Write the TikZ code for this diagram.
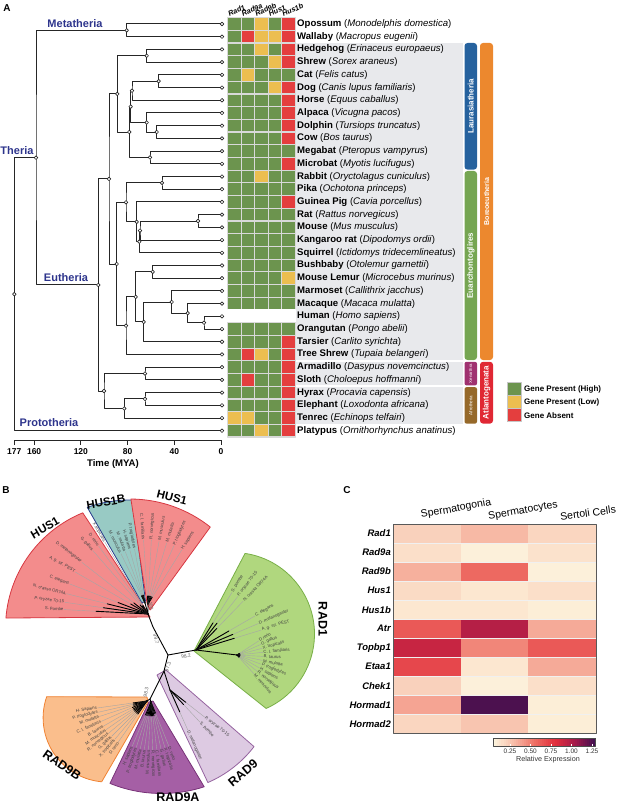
\documentclass[tikz,border=0pt]{standalone}
\usepackage{fontspec}
\setmainfont{Liberation Sans}
\usetikzlibrary{calc, positioning}

% Panel A colours
\definecolor{cladeBlue}{RGB}{45,52,140}
\definecolor{cellG}{RGB}{108,148,78}
\definecolor{cellY}{RGB}{236,190,80}
\definecolor{cellR}{RGB}{228,62,62}
\definecolor{cellN}{RGB}{255,255,255}
\colorlet{edgeG}{gray!30}
\colorlet{edgeY}{gray!30}
\colorlet{edgeR}{gray!30}
\colorlet{edgeN}{white}
\definecolor{lauraBlue}{RGB}{38,98,158}
\definecolor{euarGreen}{RGB}{118,166,82}
\definecolor{xenPurple}{RGB}{160,50,112}
\definecolor{afroBrown}{RGB}{150,105,42}
\definecolor{boreoOrange}{RGB}{236,136,46}
\definecolor{atlanRed}{RGB}{224,40,52}
\definecolor{labelGray}{RGB}{232,233,236}
% Panel B colours
\definecolor{husFill}{RGB}{243,140,140}
\definecolor{husLine}{RGB}{215,55,65}
\definecolor{hbFill}{RGB}{152,202,196}
\definecolor{hbLine}{RGB}{40,60,140}
\definecolor{radFill}{RGB}{176,215,126}
\definecolor{radLine}{RGB}{120,175,70}
\definecolor{nineBFill}{RGB}{250,190,140}
\definecolor{nineBLine}{RGB}{240,130,50}
\definecolor{nineAFill}{RGB}{165,95,165}
\definecolor{nineALine}{RGB}{120,50,120}
\definecolor{nineFill}{RGB}{221,202,226}
\definecolor{nineLine}{RGB}{150,100,160}
% Panel C expression scale
\definecolor{ex0}{RGB}{253,245,222}
\definecolor{ex1}{RGB}{247,185,165}
\definecolor{ex2}{RGB}{238,110,100}
\definecolor{ex3}{RGB}{225,45,60}
\definecolor{ex4}{RGB}{160,25,75}
\definecolor{ex5}{RGB}{60,15,80}

\newcommand{\setfs}[1]{\fontsize{#1}{#1}\selectfont}

% internal node of the time tree: name, x, child a, child b
\newcommand{\joinclade}[4]{%
  \path let \p1=($(#3)!0.5!(#4)$) in coordinate (#1) at (#2pt,\y1);
  \draw[branch] (#3) -| (#1) |- (#4);
}

% colour of one expression cell
\newcommand{\excolor}[1]{%
  \pgfmathtruncatemacro\exseg{min(4,floor(#1/0.25))}%
  \pgfmathtruncatemacro\expct{round((#1-0.25*\exseg)/0.25*100)}%
  \pgfmathtruncatemacro\exnext{\exseg+1}%
  \colorlet{excell}{ex\exnext!\expct!ex\exseg}%
}

% leaves of the radial tree: root, radius, list angle/black/text
\newcommand{\leaves}[3]{%
  \foreach \a/\b/\t in {#3} {
    \draw[leafline] (#1) -- ++(\a:#2pt) coordinate (lf);
    \draw[twig] (#1) -- ++(\a:\b pt);
    \pgfmathtruncatemacro\flip{cos(\a)<0}
    \ifnum\flip=1
      \node[leaf, anchor=east, rotate=\a+180] (lf#1\a) at (lf) {\t};
    \else
      \node[leaf, anchor=west, rotate=\a] (lf#1\a) at (lf) {\t};
    \fi
  }
}

\begin{document}
\begin{tikzpicture}[x=1pt, y=-1pt, line join=round,
  panel/.style={font=\bfseries\setfs{10}, inner sep=0pt},
  branch/.style={draw=black!85, line width=1pt},
  knot/.style={draw=black!85, fill=white, line width=0.65pt},
  clade/.style={font=\bfseries\setfs{11}, text=cladeBlue, inner sep=0pt},
  species/.style={anchor=west, inner sep=0pt, font=\setfs{9.6}},
  colgene/.style={anchor=base west, rotate=25, inner sep=0pt, font=\bfseries\itshape\setfs{7.3}},
  cellbox/.style={line width=1.2pt},
  barname/.style={text=white, rotate=90, inner sep=0pt, font=\bfseries\setfs{8}},
  legendtext/.style={anchor=west, inner sep=0pt, font=\bfseries\setfs{8}},
  axis/.style={draw=black!85, line width=1pt},
  ticklabel/.style={font=\bfseries\setfs{8.5}, inner sep=0pt},
  sector/.style={line width=0.8pt},
  leafline/.style={draw=black!35, line width=0.4pt},
  twig/.style={draw=black, line width=0.9pt, line cap=round},
  leaf/.style={inner sep=0.5pt, font=\setfs{4.3}, text=black!75},
  boot/.style={inner sep=0pt, font=\setfs{5}, text=black!60},
  genetitle/.style={font=\bfseries\setfs{11.5}, inner sep=0pt},
  genelabel/.style={anchor=east, inner sep=0pt, font=\bfseries\itshape\setfs{9.5}},
  colhead/.style={inner sep=0pt, font=\setfs{10.5}},
  scalelabel/.style={inner sep=0pt, font=\setfs{6.5}, text=black!80},
]
\useasboundingbox (0,0) rectangle (617,805);

% ---------------- Panel A ----------------
\node[panel] (pA) at (7,8) {A};

% label backdrop
\fill[labelGray] (296,43) rectangle (463,424.4);
\draw[white, line width=1.5pt] (296,360.8) -- (463,360.8) (296,386.2) -- (463,386.2);

% clade bars
\fill[lauraBlue, rounded corners=3pt] (464.5,43) rectangle (477,169.6);
\node[barname] (bLaura) at (470.7,106.3) {Laurasiatheria};
\fill[euarGreen, rounded corners=3pt] (464.5,171) rectangle (477,360);
\node[barname] (bEuar) at (470.7,265.5) {Euarchontoglires};
\fill[xenPurple, rounded corners=2pt] (464.5,361.8) rectangle (477,385.4);
\node[barname, font=\setfs{4.3}] (bXen) at (470.7,373.6) {Xenarthra};
\fill[afroBrown, rounded corners=2pt] (464.5,387.2) rectangle (477,423.6);
\node[barname, font=\setfs{4.5}] (bAfro) at (470.7,405.4) {Afrotheria};
\fill[boreoOrange, rounded corners=3pt] (480,43) rectangle (493,360);
\node[barname, font=\bfseries\setfs{7}] (bBoreo) at (486.5,201.5) {Boreoeutheria};
\fill[atlanRed, rounded corners=3pt] (480,361.8) rectangle (493,423.6);
\node[barname] (bAtlan) at (486.5,392.7) {Atlantogenata};

% gene presence heatmap
\foreach \a/\b/\c/\d/\e [count=\i from 0] in {G/G/Y/G/R, G/R/Y/Y/R, G/G/Y/G/R, G/G/G/Y/R,
    G/Y/G/G/G, G/G/G/Y/R, G/G/G/G/R, G/G/G/G/R, G/G/G/G/R, G/G/G/G/R, G/G/G/G/G,
    G/G/G/G/R, G/G/Y/G/G, G/G/G/G/G, G/G/G/G/R, G/G/G/G/G, G/G/G/G/G, G/G/G/G/G,
    G/G/G/G/G, G/G/G/G/G, G/G/G/G/Y, G/G/G/G/G, G/G/G/G/G, N/N/N/N/N, G/G/G/G/G,
    G/G/G/G/R, G/R/Y/G/R, G/G/G/G/R, G/R/G/G/R, G/G/G/G/R, G/G/G/G/R, Y/Y/G/G/R,
    G/G/Y/G/R}
  \foreach \s [count=\j from 0] in {\a,\b,\c,\d,\e}
    \filldraw[cellbox, fill=cell\s, draw=edge\s] ({227.7+13.5*\j},{17.65+12.71*\i}) rectangle ++(13.5,12.71);

\foreach \g [count=\j from 0] in {Rad1,Rad9a,Rad9b,Hus1,Hus1b}
  \node[colgene] (cg\j) at ({229.5+13.5*\j},17) {\g};

% species
\foreach \com/\lat [count=\i from 0] in {Opossum/Monodelphis domestica, Wallaby/Macropus eugenii,
    Hedgehog/Erinaceus europaeus, Shrew/Sorex araneus, Cat/Felis catus,
    Dog/Canis lupus familiaris, Horse/Equus caballus, Alpaca/Vicugna pacos,
    Dolphin/Tursiops truncatus, Cow/Bos taurus, Megabat/Pteropus vampyrus,
    Microbat/Myotis lucifugus, Rabbit/Oryctolagus cuniculus, Pika/Ochotona princeps,
    Guinea Pig/Cavia porcellus, Rat/Rattus norvegicus, Mouse/Mus musculus,
    Kangaroo rat/Dipodomys ordii, Squirrel/Ictidomys tridecemlineatus,
    Bushbaby/Otolemur garnettii, Mouse Lemur/Microcebus murinus,
    Marmoset/Callithrix jacchus, Macaque/Macaca mulatta, Human/Homo sapiens,
    Orangutan/Pongo abelii, Tarsier/Carlito syrichta, Tree Shrew/Tupaia belangeri,
    Armadillo/Dasypus novemcinctus, Sloth/Choloepus hoffmanni,
    Hyrax/Procavia capensis, Elephant/Loxodonta africana, Tenrec/Echinops telfairi,
    Platypus/Ornithorhynchus anatinus}
  \node[species] (sp\i) at (297,{24+12.71*\i}) {\textbf{\com} (\textit{\lat})};

% legend
\foreach \c/\t [count=\k from 0] in {cellG/Gene Present (High), cellY/Gene Present (Low), cellR/Gene Absent} {
  \filldraw[fill=\c, draw=gray!45, line width=0.8pt] (507,{382.7+13*\k}) rectangle ++(14,13);
  \node[legendtext] (lg\k) at (524,{389.2+13*\k}) {\t};
}

% time tree
\foreach \i in {0,...,32}
  \coordinate (t\i) at (222,{24+12.71*\i});
\joinclade{meta}{126.7}{t0}{t1}
\joinclade{eul}{146.7}{t2}{t3}
\joinclade{catdog}{158.7}{t4}{t5}
\joinclade{zoo}{132}{catdog}{t6}
\joinclade{dolcow}{156.7}{t8}{t9}
\joinclade{cet}{146.7}{t7}{dolcow}
\joinclade{fer}{130.7}{zoo}{cet}
\joinclade{bat}{150}{t10}{t11}
\joinclade{scro}{129.3}{fer}{bat}
\joinclade{laura}{117.3}{eul}{scro}
\joinclade{lago}{162}{t12}{t13}
\joinclade{ratmou}{198}{t15}{t16}
\joinclade{murid}{140}{ratmou}{t17}
\joinclade{sciur}{139.3}{murid}{t18}
\joinclade{rodent}{136.7}{t14}{sciur}
\joinclade{glires}{126}{lago}{rodent}
\joinclade{strep}{152.7}{t19}{t20}
\joinclade{homin}{204}{t23}{t24}
\joinclade{catar}{187.7}{t22}{homin}
\joinclade{anthro}{171.7}{t21}{catar}
\joinclade{haplo}{143.7}{anthro}{t25}
\joinclade{prim}{135.7}{strep}{haplo}
\joinclade{euarch}{126}{prim}{t26}
\joinclade{euglir}{116.7}{glires}{euarch}
\joinclade{boreo}{109}{laura}{euglir}
\joinclade{xen}{145}{t27}{t28}
\joinclade{hyel}{145}{t29}{t30}
\joinclade{afro}{124.3}{hyel}{t31}
\joinclade{atlan}{104}{xen}{afro}
\joinclade{euth}{98.3}{boreo}{atlan}
\joinclade{ther}{36}{meta}{euth}
\joinclade{root}{14.3}{ther}{t32}

\foreach \n in {meta,eul,catdog,zoo,dolcow,cet,fer,bat,scro,laura,lago,ratmou,murid,sciur,
    rodent,glires,strep,homin,catar,anthro,haplo,prim,euarch,euglir,boreo,xen,hyel,afro,
    atlan,euth,ther,root}
  \draw[knot] (\n) circle (1.8pt);
\foreach \i in {0,...,32}
  \draw[knot] (t\i) circle (1.8pt);

\node[clade] (cMeta) at (75,24) {Metatheria};
\node[clade] (cTher) at (17,151) {Theria};
\node[clade] (cEuth) at (66,278) {Eutheria};
\node[clade] (cProt) at (49,423) {Prototheria};

% time axis
\foreach \t in {177,160,120,80,40,0} {
  \coordinate (tick\t) at ({221-1.168*\t},440);
  \draw[axis] (tick\t) -- ++(0,5);
  \node[ticklabel] (tl\t) at ({221-1.168*\t},452) {\t};
}
\draw[axis] (tick177) -- (tick0);
\node[ticklabel, font=\bfseries\setfs{9.6}] (timeTitle) at (113,464) {Time (MYA)};

% ---------------- Panel B ----------------
\node[panel] (pB) at (6,490) {B};

\coordinate (ctr) at (168,655);
\coordinate (hg) at (153,627);
\coordinate (h2) at (148,614);
\coordinate (hb) at (145,603);
\coordinate (hr) at (148,604);
\coordinate (r1) at (196,650);
\coordinate (r1v) at (237,655);
\coordinate (r9g) at (164,671);
\coordinate (r9ab) at (150,699);
\coordinate (r9b) at (147,701);
\coordinate (r9a) at (151,702);
\coordinate (r9) at (170,690);
\coordinate (hc) at (130,628);
\coordinate (r1c) at (233,634);
\coordinate (r9bc) at (107.3,717.8);
\coordinate (r9ac) at (161.7,656);
\coordinate (r9c) at (162,676);

% clade sectors
\filldraw[sector, fill=husFill, draw=husLine] (150,617) -- ($(hc)+(175.4:124.5pt)$)
  arc[start angle=175.4, end angle=112.3, radius=124.5pt] -- (143,605) -- cycle;
\filldraw[sector, fill=hbFill, draw=hbLine] (142,603) -- ($(hc)+(109.5:128pt)$)
  arc[start angle=109.5, end angle=88.8, radius=128pt] -- (145.5,601) -- cycle;
\filldraw[sector, fill=husFill, draw=husLine] (147,603) -- ($(hc)+(89.6:129pt)$)
  arc[start angle=89.6, end angle=51.5, radius=129pt] -- (150,610) -- cycle;
\filldraw[sector, fill=radFill, draw=radLine] (194,651) -- ($(r1c)+(81.5:81.5pt)$)
  arc[start angle=81.5, end angle=-66, radius=81.5pt] -- cycle;
\filldraw[sector, fill=nineBFill, draw=nineBLine] (147,697) -- ($(r9bc)+(160.8:64.2pt)$)
  arc[start angle=160.8, end angle=265, radius=64.2pt] -- (148,702) -- cycle;
\filldraw[sector, fill=nineAFill, draw=nineALine] (149,702) -- ($(r9ac)+(247.9:137.5pt)$)
  arc[start angle=247.9, end angle=288, radius=137.5pt] -- (153,701) -- cycle;
\filldraw[sector, fill=nineFill, draw=nineLine] (157,675) -- ($(r9c)+(-66.7:116pt)$)
  arc[start angle=-66.7, end angle=-37.5, radius=116pt] -- (166,670) -- cycle;

% leaves
\leaves{h2}{84}{121/10/X.tropicalis, 126/10/D. rerio, 131/12/G. gallus, 142/18/D. melanogaster,
  150/20/A. g. str. PEST, 159/32/C. elegans, 166/42/N. crassa OR74A, 172/45/P. oryzae 70-15,
  177/52/S. pombe}
\leaves{hb}{55}{101/8/P. troglodytes, 106/8/H. sapiens, 111/8/M. mulatta, 116/8/M. musculus}
\leaves{hr}{64}{94/8/C. l. familiaris, 87/8/R. norvegicus, 80/8/M. musculus, 73/8/M. mulatta,
  66/8/P. troglodytes, 58/8/H. sapiens}
\leaves{r1}{68}{58/32/S. pombe, 52/34/P. oryzae 70-15, 46/30/N. crassa OR74A, 30/38/C. elegans,
  23/40/D. melanogaster, 17/40/A. g. str. PEST}
\leaves{r1v}{26}{33/3/D.rerio, 24/3/G. gallus, 15/3/X. tropicalis, 6/3/C. l. familiaris,
  -3/3/B. taurus, -12/3/M. mulatta, -21/3/P. troglodytes, -30/3/H. sapiens,
  -39/3/R. norvegicus, -48/3/M. musculus}
\leaves{r9b}{50}{188/14/H. Sapiens, 193/14/P. troglodytes, 198/14/M. mulatta,
  204/16/C. l. familiaris, 210/16/B. taurus, 215/16/M. musculus, 220/16/R. norvegicus,
  225/16/G. gallus, 230/16/X. tropicalis, 235/16/D. rerio}
\leaves{r9a}{48}{-68/12/D. rerio, -73/12/X. tropicalis, -78/14/G. gallus, -83/14/C. l. familiaris,
  -88/14/R. norvegicus, -93/14/M. musculus, -98/14/B. taurus, -103/14/M. mulatta,
  -108/14/P. troglodytes, -113/14/H. sapiens}
\leaves{r9}{44}{-38/20/P. oryzae 70-15, -47/20/S. pombe, -66/24/D. melanogaster}

% backbone
\draw[twig] (ctr) -- (hg) -- (h2);
\draw[twig] (h2) -- (hb) (h2) -- (hr);
\draw[twig] (ctr) -- (r1) -- (r1v);
\draw[twig] (ctr) -- (r9g) -- (r9ab);
\draw[twig] (r9ab) -- (r9b) (r9ab) -- (r9a);
\draw[twig] (r9g) -- (r9);

% support values
\node[boot, rotate=-80] (bs100) at (151,606) {100};
\node[boot, rotate=-75] (bs997) at (156,639) {99.7};
\node[boot, rotate=12] (bs982) at (186,656) {98.2};
\node[boot, rotate=72] (bs973) at (168,667) {97.3};
\node[boot, rotate=80] (bs983) at (146,692) {98.3};

% clade names
\node[genetitle, rotate=30] (gHusA) at (45,528) {HUS1};
\node[genetitle, rotate=10] (gHusB) at (106,502) {HUS1B};
\node[genetitle, rotate=-14] (gHusC) at (172,497) {HUS1};
\node[genetitle, rotate=-90, font=\bfseries\setfs{12.5}] (gRad1) at (323,619) {RAD1};
\node[genetitle, rotate=-35, font=\bfseries\setfs{12.5}] (gRad9B) at (62,765) {RAD9B};
\node[genetitle, font=\bfseries\setfs{12.5}] (gRad9A) at (178,797) {RAD9A};
\node[genetitle, rotate=40, font=\bfseries\setfs{12.5}] (gRad9) at (243,773) {RAD9};

% ---------------- Panel C ----------------
\node[panel] (pC) at (347,490) {C};

\node[colhead, rotate=10] (hSpg) at (456,509) {Spermatogonia};
\node[colhead, rotate=10] (hSpc) at (523,511) {Spermatocytes};
\node[colhead, rotate=8] (hSer) at (588,513) {Sertoli Cells};

\foreach \gene/\va/\vb/\vc [count=\r from 0] in {Rad1/0.15/0.25/0.13, Rad9a/0.09/0.02/0.08,
    Rad9b/0.28/0.52/0.02, Hus1/0.11/0.06/0.09, Hus1b/0.06/0.06/0.03, Atr/0.58/0.92/0.3,
    Topbp1/0.85/0.42/0.58, Etaa1/0.65/0.06/0.3, Chek1/0.15/0.02/0.09,
    Hormad1/0.32/1.21/0.03, Hormad2/0.13/0.2/0.03} {
  \node[genelabel] (gene\r) at (391,{524+19.03*(\r+0.5)}) {\gene};
  \foreach \v [count=\c from 0] in {\va,\vb,\vc} {
    \excolor{\v}
    \fill[excell] ({393.3+67.57*\c},{524+19.03*\r}) rectangle ++(67.57,19.03);
  }
}
\foreach \r in {1,...,10}
  \draw[white!88!gray, line width=0.3pt] (393.3,{524+19.03*\r}) -- (596,{524+19.03*\r});
\draw[black!65, line width=0.9pt] (393.3,524) rectangle (596,733.3);

% colour scale
\foreach \ca/\cb [count=\k from 0] in {ex0/ex1,ex1/ex2,ex2/ex3,ex3/ex4,ex4/ex5}
  \foreach \j in {0,...,9}
    \fill[\cb!\j0!\ca] ({493.3+20.4*\k+2.04*\j},738.3) rectangle ++(2.3,7.7);
\foreach \x/\lab in {510/0.25, 530.5/0.50, 551/0.75, 571.5/1.00, 592/1.25} {
  \draw[white, line width=0.5pt] (\x,746) -- ++(0,-2);
  \node[scalelabel] (sl\lab) at (\x,751.5) {\lab};
}
\draw[black!70, line width=0.6pt] (493.3,738.3) rectangle (595.5,746);
\node[scalelabel, font=\setfs{7.2}] (scaleTitle) at (548,759.5) {Relative Expression};
\end{tikzpicture}
\end{document}
